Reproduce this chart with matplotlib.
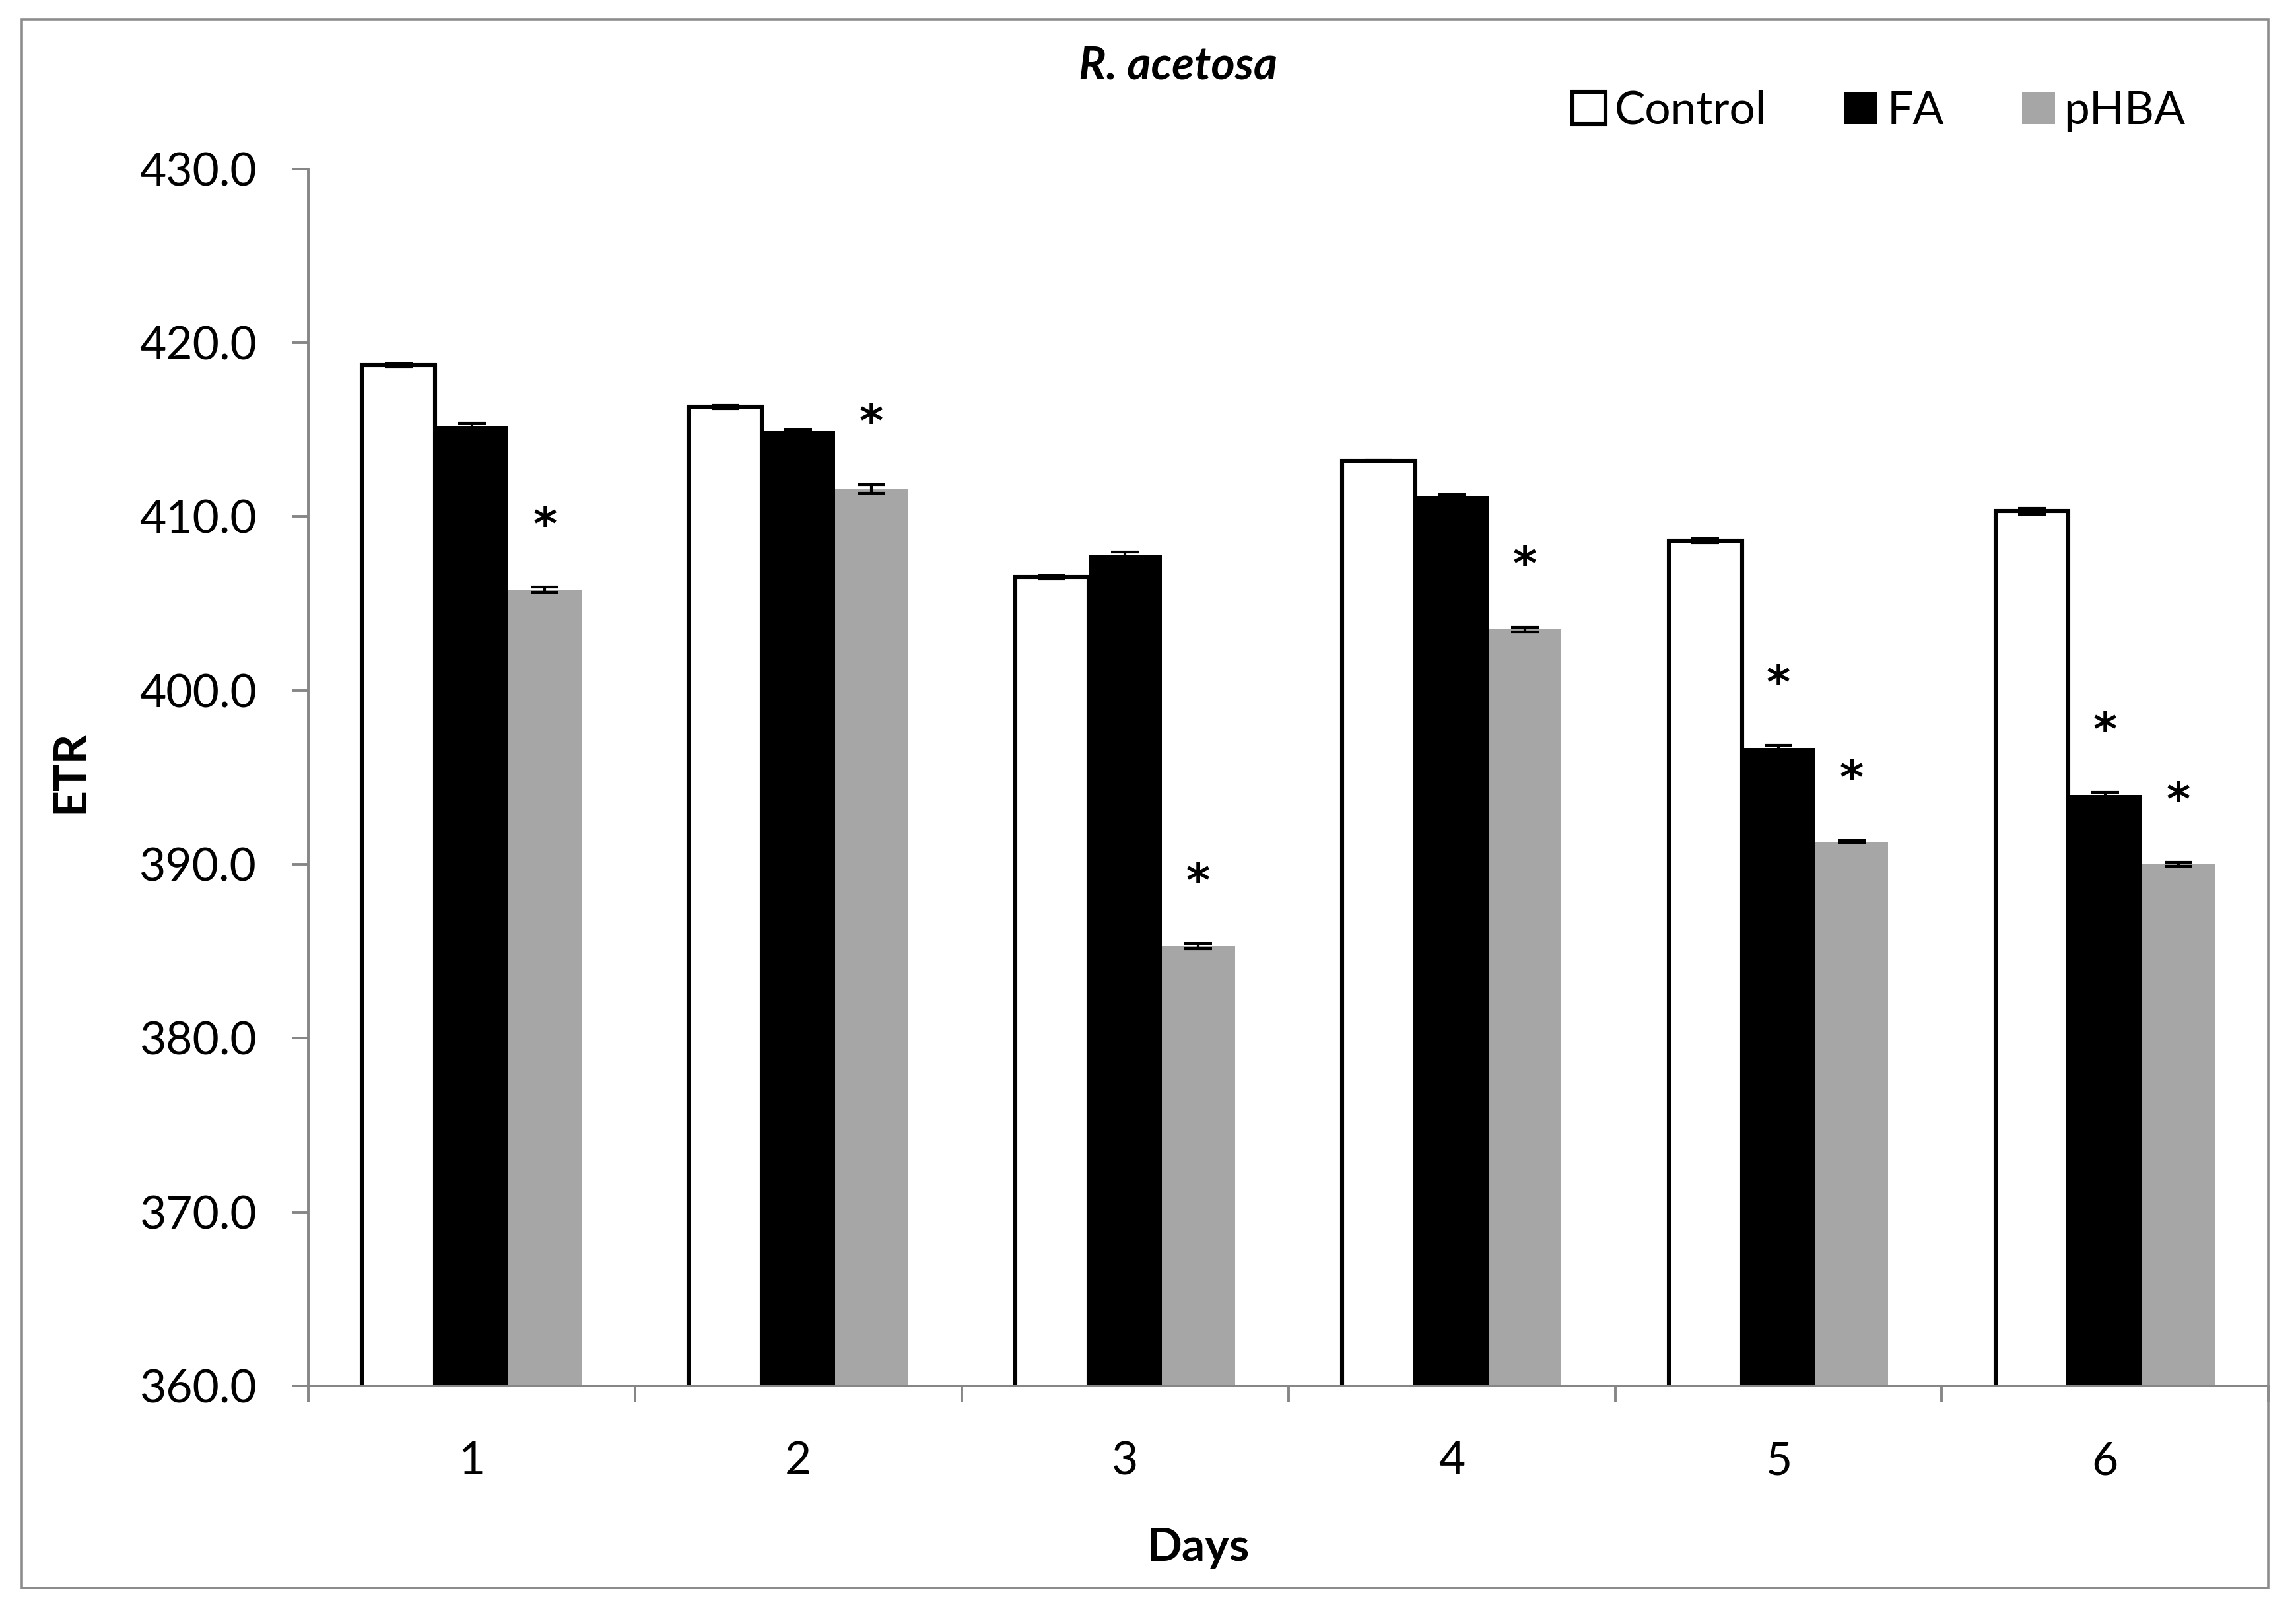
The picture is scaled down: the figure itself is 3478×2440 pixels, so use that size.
import numpy as np
import matplotlib
matplotlib.use("Agg")
import matplotlib.pyplot as plt
from matplotlib.patches import Rectangle

# =============================
# Data
# =============================
days = ["1", "2", "3", "4", "5", "6"]
series = ["Control", "FA", "pHBA"]

control = [418.7, 416.3, 406.5, 413.2, 408.6, 410.3]
fa      = [415.2, 414.9, 407.8, 411.2, 396.7, 394.0]
phba    = [405.8, 411.6, 385.3, 403.5, 391.3, 390.0]

control_err = [0.10, 0.10, 0.10, 0.03, 0.12, 0.18]
fa_err      = [0.15, 0.10, 0.15, 0.05, 0.12, 0.12]
phba_err    = [0.15, 0.25, 0.15, 0.15, 0.05, 0.10]

# significance marks (True = asterisk)
fa_sig   = [False, False, False, False, True, True]
phba_sig = [True, True, True, True, True, True]

# =============================
# Style
# =============================
plt.rcParams["font.family"] = ["Lato", "DejaVu Sans"]
FS = 25
GRAY_AX = "#868686"
GRAY_BAR = "#A6A6A6"

fig = plt.figure(figsize=(3478 / 200, 2440 / 200), dpi=200)
ax = fig.add_axes([0.1343, 0.1398, 0.988 - 0.1343, 0.8952 - 0.1398])

x = np.arange(1, len(days) + 1)
w = 0.224
err_kw = dict(ecolor="black", capsize=7.5, elinewidth=1.5, capthick=1.5)

ax.bar(x - w, control, w, yerr=control_err, color="white", edgecolor="black",
       linewidth=2.2, label=series[0], error_kw=err_kw, zorder=3)
ax.bar(x, fa, w, yerr=fa_err, color="black", edgecolor="black", linewidth=0,
       label=series[1], error_kw=err_kw, zorder=3)
ax.bar(x + w, phba, w, yerr=phba_err, color=GRAY_BAR, linewidth=0,
       label=series[2], error_kw=err_kw, zorder=3)

# asterisks
star_kw = dict(textcoords="offset points", ha="center", va="center",
               fontsize=FS, fontweight="bold", family="DejaVu Sans")
for xi, v, e, s in zip(x, fa, fa_err, fa_sig):
    if s:
        ax.annotate("*", (xi, v + e), xytext=(0, 33), **star_kw)
for xi, v, e, s in zip(x + w, phba, phba_err, phba_sig):
    if s:
        ax.annotate("*", (xi, v + e), xytext=(0, 33), **star_kw)

# axes
ax.set_ylim(360, 430)
ax.set_yticks(np.arange(360, 431, 10))
ax.set_yticklabels([f"{t:.1f}" for t in np.arange(360, 431, 10)])
ax.set_xlim(0.5, len(days) + 0.5)
ax.set_xticks(np.arange(0.5, len(days) + 1, 1))
ax.set_xticklabels([])
ax.set_xticks(x, minor=True)
ax.set_xticklabels(days, minor=True)

for side in ["top", "right"]:
    ax.spines[side].set_visible(False)
for side in ["left", "bottom"]:
    ax.spines[side].set_color(GRAY_AX)
    ax.spines[side].set_linewidth(1.4)
    ax.spines[side].set_zorder(4)

ax.tick_params(axis="y", which="major", direction="out", length=9, width=1.4,
               color=GRAY_AX, labelsize=FS, pad=19)
ax.tick_params(axis="x", which="major", direction="out", length=9, width=1.4,
               color=GRAY_AX)
ax.tick_params(axis="x", which="minor", length=0, labelsize=FS, pad=30)

# labels and title
fig.text(0.0307, 0.521, "ETR", rotation=90, ha="center", va="center",
         fontsize=FS, fontweight="bold")
fig.text(0.522, 0.039, "Days", ha="center", va="center",
         fontsize=FS, fontweight="bold")
fig.text(0.513, 0.959, "R. acetosa", ha="center", va="center",
         fontsize=FS, fontweight="bold", fontstyle="italic")

fig.legend(loc="center", bbox_to_anchor=(0.8184, 0.931), ncol=3, frameon=False,
           fontsize=FS, handlelength=0.72, handleheight=0.72,
           handletextpad=0.2, columnspacing=1.7)

# outer chart border
fig.patches.append(Rectangle((0.0095, 0.0143), 0.988 - 0.0095, 0.9879 - 0.0143,
                             transform=fig.transFigure, fill=False,
                             edgecolor="#8C8C8C", linewidth=1.3))

fig.savefig("out.png", dpi=200, facecolor="white")
